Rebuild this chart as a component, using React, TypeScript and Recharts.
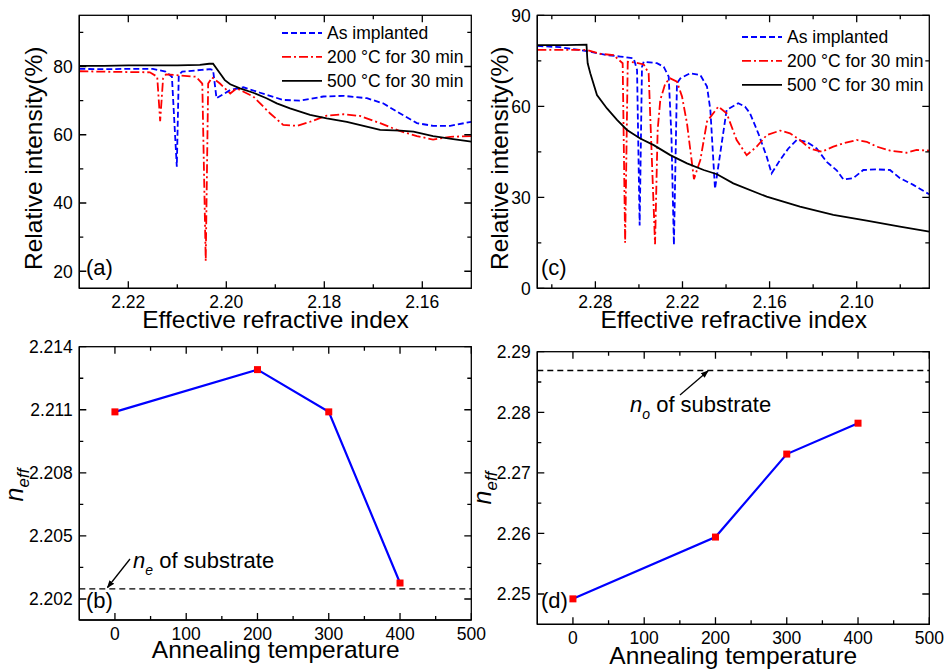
import React from 'react';
import { LineChart, Line, XAxis, YAxis, ReferenceLine, Legend } from 'recharts';

const FONT = '"Liberation Sans", Arial, Helvetica, sans-serif';

// legend names and styles (blue dashed, red dash-dot, black solid)
const SERIES_NAMES = ['As implanted', '200 \u00B0C for 30 min', '500 \u00B0C for 30 min'];
const SERIES_COLORS = ['#0000ff', '#ff0000', '#000000'];
const SERIES_DASH = ['6 3', '9 3 2 3', undefined];

// (a) relative intensity vs effective index
const A_IMPL_N = [2.23, 2.225, 2.22, 2.215, 2.2124, 2.2111, 2.2101, 2.2097, 2.209, 2.205, 2.2033, 2.2027, 2.202, 2.1992, 2.1965, 2.1931, 2.1884, 2.185, 2.1802, 2.1761, 2.1713, 2.168, 2.1646, 2.1611, 2.1578, 2.1543, 2.15];
const A_IMPL_V = [79.3, 79.2, 79.3, 79.3, 78.5, 77, 50.6, 77.5, 78.5, 79, 79.2, 79, 70.7, 73.1, 73.9, 72.3, 70.2, 70, 71.2, 71.4, 70.7, 69.2, 66.3, 63.4, 62.6, 62.6, 63.8];
const A_200_N = [2.23, 2.2217, 2.2156, 2.2141, 2.2135, 2.2129, 2.2123, 2.2062, 2.2049, 2.2042, 2.2037, 2.2029, 2.2013, 2.1992, 2.1979, 2.1945, 2.1911, 2.1884, 2.1856, 2.1829, 2.1795, 2.1761, 2.1727, 2.1686, 2.1646, 2.1611, 2.1578, 2.1543, 2.15];
const A_200_V = [78.6, 78.4, 78.3, 77, 64, 76.5, 77.7, 77, 75, 23, 75, 76.8, 75, 72.1, 73.6, 71.2, 66.3, 62.9, 62.6, 63.8, 65.6, 66, 65.5, 63.4, 61.1, 59.6, 58.6, 59.4, 59.6];
const A_500_N = [2.23, 2.225, 2.22, 2.215, 2.21, 2.2054, 2.2035, 2.2027, 2.2013, 2.2003, 2.1992, 2.1972, 2.1945, 2.1918, 2.1897, 2.187, 2.1829, 2.1795, 2.1754, 2.172, 2.1686, 2.1645, 2.1618, 2.1578, 2.1537, 2.15];
const A_500_V = [80.2, 80.2, 80.3, 80.3, 80.3, 80.5, 80.8, 80.8, 78, 76, 74.8, 73.6, 72.3, 70.7, 69.2, 67.7, 65.8, 64.8, 63.8, 62.6, 61.4, 61.2, 60.9, 59.6, 58.7, 58];

// (c) relative intensity vs effective index, ordinary polarisation
const C_IMPL_N = [2.32, 2.3044, 2.286, 2.2722, 2.2628, 2.2536, 2.2513, 2.2495, 2.2479, 2.2467, 2.2376, 2.2329, 2.2295, 2.2276, 2.2259, 2.2238, 2.2215, 2.2146, 2.2077, 2.2031, 2.2008, 2.1976, 2.1896, 2.1816, 2.1769, 2.1735, 2.1678, 2.162, 2.1586, 2.1528, 2.1471, 2.1413, 2.1345, 2.1276, 2.1207, 2.1138, 2.1092, 2.1024, 2.0955, 2.0862, 2.0771, 2.0702, 2.061, 2.053, 2.05];
const C_IMPL_V = [79.9, 79.5, 78.2, 76.9, 76.4, 75.8, 72, 20.7, 73, 74.7, 74.2, 73, 69.8, 50, 14.3, 67.6, 69.2, 70.9, 70.3, 66.5, 58.8, 32.8, 58.8, 61, 59.9, 57.7, 51.1, 43.4, 37.9, 42.3, 46.1, 48.9, 48.3, 46.1, 41.7, 38.9, 35.9, 36.3, 39, 39.2, 39, 36.3, 34.1, 31.8, 31];
const C_200_N = [2.32, 2.286, 2.2768, 2.2674, 2.2639, 2.2612, 2.2595, 2.2577, 2.2536, 2.2467, 2.2433, 2.2389, 2.2371, 2.2353, 2.2318, 2.2284, 2.2238, 2.2203, 2.2169, 2.2121, 2.2077, 2.2031, 2.1953, 2.1896, 2.1827, 2.1758, 2.1689, 2.162, 2.1528, 2.146, 2.1391, 2.1322, 2.1241, 2.1161, 2.1092, 2.1, 2.0931, 2.0862, 2.0771, 2.0656, 2.0587, 2.05];
const C_200_V = [78.6, 78.6, 77.3, 76.9, 75.3, 74.2, 15, 74.7, 74.5, 73.8, 70.9, 14.5, 52.2, 62.1, 67.6, 69.2, 68.1, 63.2, 54.4, 36, 42.3, 55, 59.9, 57.7, 48.9, 43.9, 46.7, 50.5, 52, 51.1, 48.9, 46.1, 45, 46.7, 47.8, 48.9, 48.3, 46.7, 45.4, 44.7, 45.6, 45.4];
const C_500_N = [2.32, 2.3, 2.2861, 2.2856, 2.2853, 2.2835, 2.2789, 2.272, 2.2651, 2.2582, 2.2491, 2.2398, 2.2284, 2.2169, 2.2054, 2.1962, 2.185, 2.162, 2.1391, 2.1161, 2.0931, 2.0702, 2.05];
const C_500_V = [80.2, 80.2, 80.3, 76, 74.2, 70.9, 63.7, 59.3, 55.5, 52.2, 49.4, 47.2, 43.9, 41.2, 39, 37.6, 34.6, 30.2, 26.9, 24.2, 22.3, 20.3, 18.7];

// (b) and (d) n_eff vs annealing temperature
const TEMPS = [0, 200, 300, 400];
const B_NEFF = [2.2109, 2.21291, 2.2109, 2.20276];
const B_SUBSTRATE = 2.20248;
const D_NEFF = [2.2492, 2.2594, 2.2731, 2.2782];
const D_SUBSTRATE = 2.2869;

// ticks
const A_X_MAJ = [2.22, 2.2, 2.18, 2.16];
const A_X_MIN = [2.21, 2.19, 2.17];
const A_Y_MAJ = [20, 40, 60, 80];
const A_Y_MIN = [30, 50, 70, 90];
const C_X_MAJ = [2.28, 2.22, 2.16, 2.1];
const C_X_MIN = [2.31, 2.25, 2.19, 2.13, 2.07];
const C_Y_MAJ = [0, 30, 60, 90];
const C_Y_MIN = [15, 45, 75];
const T_MAJ = [0, 100, 200, 300, 400, 500];
const T_MIN = [50, 150, 250, 350, 450];
const B_Y_MAJ = [2.202, 2.205, 2.208, 2.211, 2.214];
const B_Y_MIN = [2.2035, 2.2065, 2.2095, 2.2125];
const D_Y_MAJ = [2.25, 2.26, 2.27, 2.28, 2.29];
const D_Y_MIN = [2.255, 2.265, 2.275, 2.285];

type Box = { l: number; t: number; r: number; b: number };
type Dom = [number, number];

type PanelCfg = {
  box: Box; // plot area on the page
  chart: { left: number; top: number; width: number; height: number };
  xDom: Dom;
  yDom: Dom;
  reversed: boolean;
  xMaj: number[];
  xMin: number[];
  yMaj: number[];
  yMin: number[];
  xFmt: (v: number) => string;
  yFmt: (v: number) => string;
};

const fmt2 = (v: number) => v.toFixed(2);
const fmt3 = (v: number) => v.toFixed(3);
const fmt0 = (v: number) => String(Math.round(v));

const PANEL_A: PanelCfg = {
  box: { l: 79.3, t: 15.3, r: 471.3, b: 288.3 }, chart: { left: 0, top: 0, width: 480, height: 330 },
  xDom: [2.15, 2.23], yDom: [15, 95], reversed: true,
  xMaj: A_X_MAJ, xMin: A_X_MIN, yMaj: A_Y_MAJ, yMin: A_Y_MIN, xFmt: fmt2, yFmt: fmt0,
};
const PANEL_C: PanelCfg = {
  box: { l: 537.3, t: 15.3, r: 929.3, b: 288.3 }, chart: { left: 480, top: 0, width: 466, height: 330 },
  xDom: [2.05, 2.32], yDom: [0, 90], reversed: true,
  xMaj: C_X_MAJ, xMin: C_X_MIN, yMaj: C_Y_MAJ, yMin: C_Y_MIN, xFmt: fmt2, yFmt: fmt0,
};
const PANEL_B: PanelCfg = {
  box: { l: 79.3, t: 346.7, r: 471.3, b: 620 }, chart: { left: 0, top: 330, width: 492, height: 342 },
  xDom: [-50, 500], yDom: [2.201, 2.214], reversed: false,
  xMaj: T_MAJ, xMin: T_MIN, yMaj: B_Y_MAJ, yMin: B_Y_MIN, xFmt: fmt0, yFmt: fmt3,
};
const PANEL_D: PanelCfg = {
  box: { l: 537.3, t: 351.7, r: 929.3, b: 624.3 }, chart: { left: 480, top: 330, width: 466, height: 342 },
  xDom: [-50, 500], yDom: [2.245, 2.29], reversed: false,
  xMaj: T_MAJ, xMin: T_MIN, yMaj: D_Y_MAJ, yMin: D_Y_MIN, xFmt: fmt0, yFmt: fmt2,
};

const zip = (xs: number[], ys: number[]) => xs.map((x, i) => ({ x, y: ys[i] }));

// tick labels only; tick marks and the box are drawn in the overlay
const makeLabel = (side: 'left' | 'bottom', majors: number[], fmt: (v: number) => string) => (props: any) => {
  const x = Number(props.x);
  const y = Number(props.y);
  const v = Number(props.payload?.value);
  const major = majors.some((m) => Math.abs(m - v) < 1e-9);
  if (!major) return <g />;
  return side === 'left' ? (
    <text x={x - 6.5} y={y} dy="0.36em" textAnchor="end" fontSize={17.5} fontFamily={FONT} fill="#000">{fmt(v)}</text>
  ) : (
    <text x={x} y={y + 20} textAnchor="middle" fontSize={17.5} fontFamily={FONT} fill="#000">{fmt(v)}</text>
  );
};

function chartMargin(p: PanelCfg) {
  return { top: p.box.t - p.chart.top, right: p.chart.left + p.chart.width - p.box.r, bottom: 0, left: 0 };
}

function axes(p: PanelCfg) {
  const axisLine = { stroke: '#000', strokeWidth: 1.3 };
  const xTicks = [...p.xMaj, ...p.xMin].sort((a, b) => a - b);
  const yTicks = [...p.yMaj, ...p.yMin].sort((a, b) => a - b);
  return [
    <XAxis key="x" type="number" dataKey="x" domain={p.xDom} reversed={p.reversed} ticks={xTicks} interval={0}
      tickSize={0} tickMargin={0} tickLine={false} axisLine={axisLine} allowDataOverflow
      height={p.chart.top + p.chart.height - p.box.b} tick={makeLabel('bottom', p.xMaj, p.xFmt)} />,
    <YAxis key="y" type="number" domain={p.yDom} ticks={yTicks} interval={0} tickSize={0} tickMargin={0}
      tickLine={false} axisLine={axisLine} allowDataOverflow width={p.box.l - p.chart.left}
      tick={makeLabel('left', p.yMaj, p.yFmt)} />,
  ];
}

// closed box with inward major/minor ticks on all four sides (Origin style)
function BoxTicks({ p }: { p: PanelCfg }) {
  const { box, xDom, yDom, reversed } = p;
  const fx = (v: number) => {
    const f = (v - xDom[0]) / (xDom[1] - xDom[0]);
    return reversed ? box.r - f * (box.r - box.l) : box.l + f * (box.r - box.l);
  };
  const fy = (v: number) => box.b - ((v - yDom[0]) / (yDom[1] - yDom[0])) * (box.b - box.t);
  let d = '';
  [...p.xMaj.map((v) => [v, 7]), ...p.xMin.map((v) => [v, 4])].forEach(([v, len]) => {
    const x = fx(v);
    d += `M${x},${box.b}v${-len}M${x},${box.t}v${len}`;
  });
  [...p.yMaj.map((v) => [v, 7]), ...p.yMin.map((v) => [v, 4])].forEach(([v, len]) => {
    const y = fy(v);
    d += `M${box.l},${y}h${len}M${box.r},${y}h${-len}`;
  });
  return (
    <g>
      <rect x={box.l} y={box.t} width={box.r - box.l} height={box.b - box.t} fill="none" stroke="#000" strokeWidth={1.3} />
      <path d={d} stroke="#000" strokeWidth={1.3} fill="none" />
    </g>
  );
}

const legendContent = () => (
  <svg width={200} height={74} style={{ display: 'block', overflow: 'visible' }}>
    {SERIES_NAMES.map((name, i) => {
      const cy = 12 + i * 23.9;
      return (
        <g key={name}>
          <line x1={0} x2={40} y1={cy} y2={cy} stroke={SERIES_COLORS[i]} strokeWidth={1.8}
            strokeDasharray={SERIES_DASH[i]} />
          <text x={45} y={cy} dy="0.36em" fontSize={17.5} fontFamily={FONT} fill="#000">
            {name}
          </text>
        </g>
      );
    })}
  </svg>
);

function SquareDot(props: any) {
  const { cx, cy, index } = props;
  if (cx == null || cy == null) return null;
  return <rect key={`sq-${index}`} x={cx - 3.5} y={cy - 3.5} width={7} height={7} fill="#ff0000" />;
}

function intensityLines(sets: { n: number[]; v: number[] }[]) {
  return sets.map((s, i) => (
    <Line key={SERIES_NAMES[i]} name={SERIES_NAMES[i]} data={zip(s.n, s.v)} dataKey="y" type="linear"
      stroke={SERIES_COLORS[i]} strokeWidth={1.8} strokeDasharray={SERIES_DASH[i]} dot={false}
      activeDot={false} isAnimationActive={false} />
  ));
}

const pos = (p: PanelCfg) => ({ position: 'absolute' as const, left: p.chart.left, top: p.chart.top });

export default function App() {
  const textStyle = { fontFamily: FONT, fill: '#000' };
  return (
    <div style={{ position: 'absolute', left: 0, top: 0, width: 946, height: 672, background: '#fff' }}>
      {/* (a) */}
      <div style={pos(PANEL_A)}>
        <LineChart width={PANEL_A.chart.width} height={PANEL_A.chart.height} margin={chartMargin(PANEL_A)}>
          {axes(PANEL_A)}
          {intensityLines([{ n: A_IMPL_N, v: A_IMPL_V }, { n: A_200_N, v: A_200_V }, { n: A_500_N, v: A_500_V }])}
          <Legend layout="vertical" align="center" verticalAlign="middle" content={legendContent}
            wrapperStyle={{ left: 281.7, top: 21.3, width: 200, height: 74 }} />
        </LineChart>
      </div>

      {/* (c) */}
      <div style={pos(PANEL_C)}>
        <LineChart width={PANEL_C.chart.width} height={PANEL_C.chart.height} margin={chartMargin(PANEL_C)}>
          {axes(PANEL_C)}
          {intensityLines([{ n: C_IMPL_N, v: C_IMPL_V }, { n: C_200_N, v: C_200_V }, { n: C_500_N, v: C_500_V }])}
          <Legend layout="vertical" align="center" verticalAlign="middle" content={legendContent}
            wrapperStyle={{ left: 261.7, top: 24.7, width: 200, height: 74 }} />
        </LineChart>
      </div>

      {/* (b) */}
      <div style={pos(PANEL_B)}>
        <LineChart width={PANEL_B.chart.width} height={PANEL_B.chart.height} margin={chartMargin(PANEL_B)}>
          {axes(PANEL_B)}
          <ReferenceLine y={B_SUBSTRATE} stroke="#000" strokeWidth={1.3} strokeDasharray="6 4" />
          <Line data={zip(TEMPS, B_NEFF)} dataKey="y" type="linear" stroke="#0000ff" strokeWidth={2.2}
            dot={SquareDot} activeDot={false} isAnimationActive={false} />
        </LineChart>
      </div>

      {/* (d) */}
      <div style={pos(PANEL_D)}>
        <LineChart width={PANEL_D.chart.width} height={PANEL_D.chart.height} margin={chartMargin(PANEL_D)}>
          {axes(PANEL_D)}
          <ReferenceLine y={D_SUBSTRATE} stroke="#000" strokeWidth={1.3} strokeDasharray="6 4" />
          <Line data={zip(TEMPS, D_NEFF)} dataKey="y" type="linear" stroke="#0000ff" strokeWidth={2.2}
            dot={SquareDot} activeDot={false} isAnimationActive={false} />
        </LineChart>
      </div>

      {/* boxes, titles and annotations */}
      <svg width={946} height={672} style={{ position: 'absolute', left: 0, top: 0, pointerEvents: 'none' }}>
        <defs>
          <marker id="arrowHead" markerWidth="8" markerHeight="8" refX="7" refY="4" orient="auto" markerUnits="userSpaceOnUse">
            <path d="M0,1 L8,4 L0,7 Z" fill="#000" />
          </marker>
        </defs>
        <BoxTicks p={PANEL_A} />
        <BoxTicks p={PANEL_C} />
        <BoxTicks p={PANEL_B} />
        <BoxTicks p={PANEL_D} />
        <g style={textStyle} fontSize={24.5}>
          <text x={41.7} y={158.3} textAnchor="middle" transform="rotate(-90 41.7 158.3)">Relative intensity(%)</text>
          <text x={508.5} y={158.3} textAnchor="middle" transform="rotate(-90 508.5 158.3)">Relative intensity(%)</text>
          <text x={275.5} y={328.3} textAnchor="middle">Effective refractive index</text>
          <text x={733.7} y={328.3} textAnchor="middle">Effective refractive index</text>
          <text x={275.8} y={657.5} textAnchor="middle">Annealing temperature</text>
          <text x={733.3} y={664} textAnchor="middle">Annealing temperature</text>
        </g>
        <g style={textStyle} fontSize={22}>
          <text x={86} y={275}>(a)</text>
          <text x={541} y={275}>(c)</text>
          <text x={86} y={608}>(b)</text>
          <text x={541} y={608}>(d)</text>
        </g>
        <g style={textStyle}>
          <text x={23.3} y={485} textAnchor="middle" transform="rotate(-90 23.3 485)">
            <tspan fontSize={25} fontStyle="italic">n</tspan>
            <tspan fontSize={17} fontStyle="italic" dy={6}>eff</tspan>
          </text>
          <text x={490.5} y={488} textAnchor="middle" transform="rotate(-90 490.5 488)">
            <tspan fontSize={25} fontStyle="italic">n</tspan>
            <tspan fontSize={17} fontStyle="italic" dy={6}>eff</tspan>
          </text>
          <text x={133} y={568} fontSize={22}>
            <tspan fontStyle="italic">n</tspan>
            <tspan fontStyle="italic" fontSize={14} dy={7}>e</tspan>
            <tspan dy={-7}> of substrate</tspan>
          </text>
          <text x={630} y={411.7} fontSize={22}>
            <tspan fontStyle="italic">n</tspan>
            <tspan fontStyle="italic" fontSize={14} dy={7}>o</tspan>
            <tspan dy={-7}> of substrate</tspan>
          </text>
        </g>
        <line x1={130} y1={559} x2={107.5} y2={587.5} stroke="#000" strokeWidth={1.3} markerEnd="url(#arrowHead)" />
        <line x1={680} y1={395} x2={708} y2={371} stroke="#000" strokeWidth={1.3} markerEnd="url(#arrowHead)" />
      </svg>
    </div>
  );
}
